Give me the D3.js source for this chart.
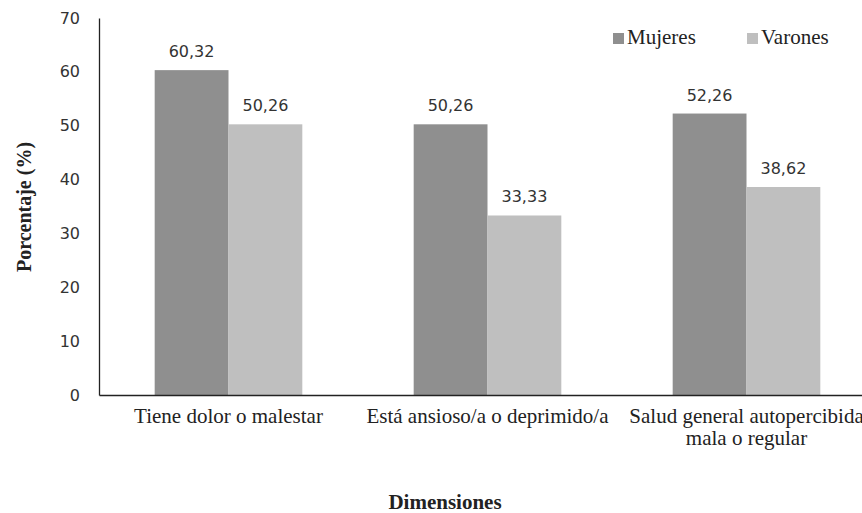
<!DOCTYPE html>
<html><head><meta charset="utf-8">
<script src="https://cdn.jsdelivr.net/npm/d3@7"></script>
<style>body{margin:0;background:#fff}</style>
</head><body>
<svg id="c" width="862" height="513"></svg>
<script>
const categories = [["Tiene dolor o malestar"], ["Está ansioso/a o deprimido/a"], ["Salud general autopercibida", "mala o regular"]];
const series = ["Mujeres", "Varones"];
const mujeres = [60.32, 50.26, 52.26];
const varones = [50.26, 33.33, 38.62];
const yTicks = [0, 10, 20, 30, 40, 50, 60, 70];
const colors = ["#8f8f8f", "#bfbfbf"];

const svg = d3.select("#c");
const m = {l: 99, t: 18, b: 395, r: 876};
const x0 = d3.scaleBand().domain(d3.range(categories.length)).range([m.l, m.r]).paddingInner(0.43).paddingOuter(0.215);
const x1 = d3.scaleBand().domain(series).range([0, x0.bandwidth()]);
const y = d3.scaleLinear().domain([0, 70]).range([m.b, m.t]);

const vals = [mujeres, varones];
const g = svg.append("g");
categories.forEach((c, i) => {
  series.forEach((s, j) => {
    const v = vals[j][i];
    g.append("rect").attr("x", x0(i) + x1(s)).attr("y", y(v)).attr("width", x1.bandwidth()).attr("height", y(0) - y(v)).attr("fill", colors[j]);
    g.append("text").attr("x", x0(i) + x1(s) + x1.bandwidth() / 2).attr("y", y(v) - 13)
      .attr("text-anchor", "middle").attr("font-family", "DejaVu Sans").attr("font-size", 16).attr("fill", "#333")
      .text(v.toFixed(2).replace(".", ","));
  });
});

// y axis
const ya = d3.axisLeft(y).tickValues(yTicks).tickSize(0).tickPadding(19);
const yg = svg.append("g").attr("transform", `translate(${m.l},0)`).call(ya);
yg.select(".domain").attr("stroke", "#222").attr("stroke-width", 1.3);
yg.selectAll("text").attr("font-family", "DejaVu Sans").attr("font-size", 16).attr("fill", "#333");

// x axis
const xa = d3.axisBottom(x0).tickSize(0).tickFormat("");
const xg = svg.append("g").attr("transform", `translate(0,${m.b})`).call(xa);
xg.select(".domain").attr("stroke", "#222").attr("stroke-width", 1.3);
categories.forEach((c, i) => {
  const t = svg.append("text").attr("x", x0(i) + x0.bandwidth() / 2).attr("y", 423)
    .attr("text-anchor", "middle").attr("font-family", "Liberation Serif").attr("font-size", 21).attr("fill", "#222");
  c.forEach((line, k) => t.append("tspan").attr("x", x0(i) + x0.bandwidth() / 2).attr("dy", k ? 22 : 0).text(line));
});

// axis titles
svg.append("text").attr("transform", "translate(31,207) rotate(-90)").attr("text-anchor", "middle")
  .attr("font-family", "Liberation Serif").attr("font-weight", "bold").attr("font-size", 20).attr("fill", "#222").text("Porcentaje (%)");
svg.append("text").attr("x", 445).attr("y", 509).attr("text-anchor", "middle")
  .attr("font-family", "Liberation Serif").attr("font-weight", "bold").attr("font-size", 21).attr("fill", "#222").text("Dimensiones");

// legend
const lx = [613, 747];
series.forEach((s, j) => {
  svg.append("rect").attr("x", lx[j]).attr("y", 33).attr("width", 11).attr("height", 11).attr("fill", colors[j]);
  svg.append("text").attr("x", lx[j] + 14).attr("y", 44).attr("font-family", "Liberation Serif").attr("font-size", 21).attr("fill", "#222").text(s);
});
</script>
</body></html>
